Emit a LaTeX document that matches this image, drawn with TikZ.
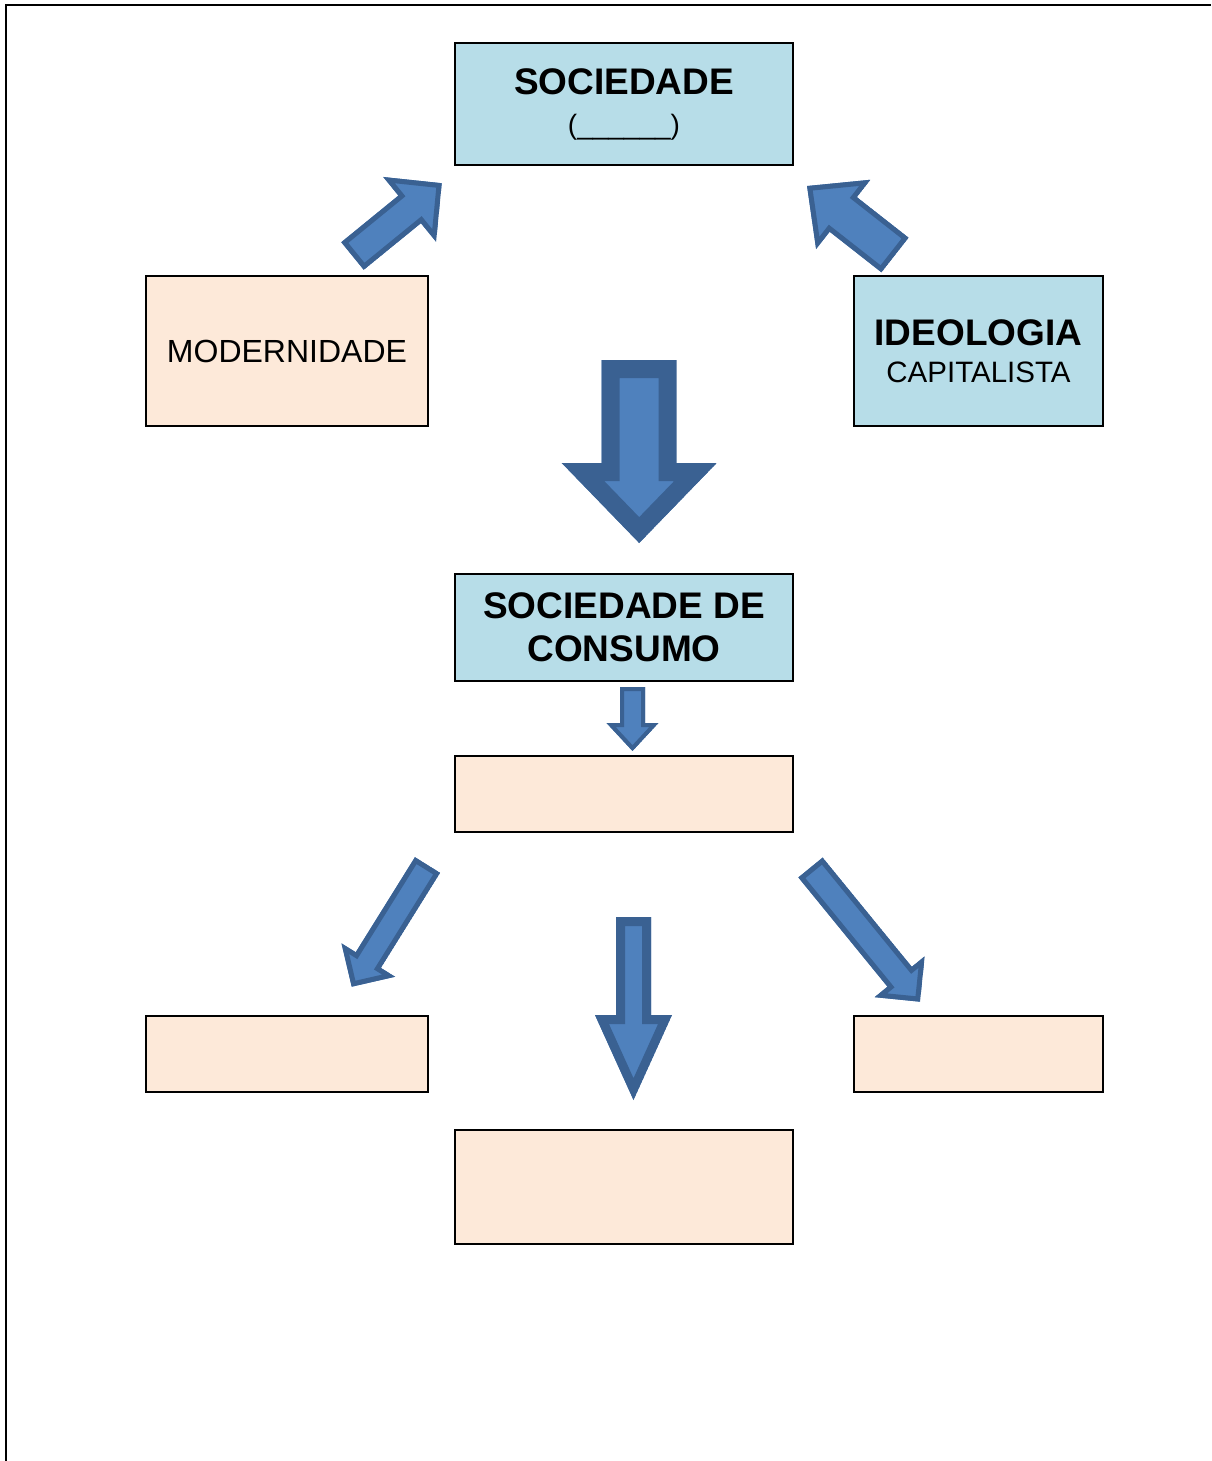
\documentclass[tikz,border=0pt]{standalone}
\usepackage{fontspec}
\setmainfont{Liberation Sans}
\usepackage{tikz}
\usetikzlibrary{calc}
\definecolor{boxblue}{HTML}{B7DDE8}
\definecolor{boxpeach}{HTML}{FDE9D9}
\definecolor{arrowfill}{HTML}{4F81BD}
\definecolor{arrowline}{HTML}{3A6192}

\tikzset{
  bluebox/.style={draw, line width=2pt, fill=boxblue, inner sep=0pt, align=center},
  peachbox/.style={draw, line width=2pt, fill=boxpeach, inner sep=0pt, align=center},
  blockarrow/.style={fill=arrowfill, draw=arrowline, line join=miter}
}

% block arrow: tail, tip, shaft half width, head half width, head length, border
\newcommand{\blockarrow}[6]{%
  \path let \p1=($(#2)-(#1)$) in \pgfextra{%
    \pgfmathsetmacro{\arrang}{atan2(\y1,\x1)}\xdef\arrang{\arrang}%
    \pgfmathsetmacro{\arrlen}{veclen(\x1,\y1)}\xdef\arrlen{\arrlen}};
  \begin{scope}[shift={(#1)}, rotate=\arrang]
    \def\arrpath{(0,-#3) -- ({\arrlen-#5},-#3) -- ({\arrlen-#5},-#4) -- (\arrlen,0)
      -- ({\arrlen-#5},#4) -- ({\arrlen-#5},#3) -- (0,#3) -- cycle}
    \clip \arrpath;
    \draw[blockarrow, line width=2*#6] \arrpath;
  \end{scope}}

\begin{document}
\begin{tikzpicture}[x=1pt, y=-1pt]
    \useasboundingbox (0,0) rectangle (1211,1461);

    % Page frame
    \draw[line width=2pt] (6,1461) -- (6,5) -- (1211,5);

    % Boxes
    \node[bluebox, minimum width=338, minimum height=122,
          font=\fontsize{37}{43}\selectfont\bfseries] (soc) at (624,104)
        {SOCIEDADE\\[-3pt]{\fontsize{28}{32}\selectfont\mdseries(\_\_\_\_\_\_)}};
    \node[peachbox, minimum width=282, minimum height=150,
          font=\fontsize{32}{38}\selectfont] (mod) at (287,351) {MODERNIDADE};
    \node[bluebox, minimum width=249, minimum height=150,
          font=\fontsize{37}{43}\selectfont\bfseries] (ideo) at (978.5,351)
        {IDEOLOGIA\\[-6pt]{\fontsize{29.5}{34}\selectfont\mdseries CAPITALISTA}};
    \node[bluebox, minimum width=338, minimum height=107,
          font=\fontsize{37}{43}\selectfont\bfseries] (cons) at (624,627.5)
        {SOCIEDADE DE\\CONSUMO};
    \node[peachbox, minimum width=338, minimum height=76] (mid) at (624,794) {};
    \node[peachbox, minimum width=282, minimum height=76] (left) at (287,1054) {};
    \node[peachbox, minimum width=249, minimum height=76] (right) at (978.5,1054) {};
    \node[peachbox, minimum width=338, minimum height=114] (bottom) at (624,1187) {};

    % Arrow ends
    \coordinate (modtail) at (352.5,256);
    \coordinate (modtip) at (442,183);
    \coordinate (ideotail) at (895,255);
    \coordinate (ideotip) at (807,186);
    \coordinate (bigtail) at (639.2,360);
    \coordinate (bigtip) at (639.2,543);
    \coordinate (constail) at (632.5,687);
    \coordinate (constip) at (632.5,751);
    \coordinate (lefttail) at (427.5,865);
    \coordinate (lefttip) at (351.7,986.7);
    \coordinate (centertail) at (633.5,917);
    \coordinate (centertip) at (633.5,1100);
    \coordinate (righttail) at (810.5,867.5);
    \coordinate (righttip) at (920,1001.7);

    % Block arrows
    \blockarrow{modtail}{modtip}{17.8}{41.8}{41.4}{5}
    \blockarrow{ideotail}{ideotip}{22}{44}{46}{5}
    \blockarrow{bigtail}{bigtip}{37.5}{77.5}{80}{18}
    \blockarrow{constail}{constip}{12.5}{26}{28}{4}
    \blockarrow{lefttail}{lefttip}{14.8}{31.6}{31.4}{5}
    \blockarrow{centertail}{centertip}{17.5}{38.5}{85}{9}
    \blockarrow{righttail}{righttip}{15.7}{32.3}{32.2}{5}
\end{tikzpicture}
\end{document}
